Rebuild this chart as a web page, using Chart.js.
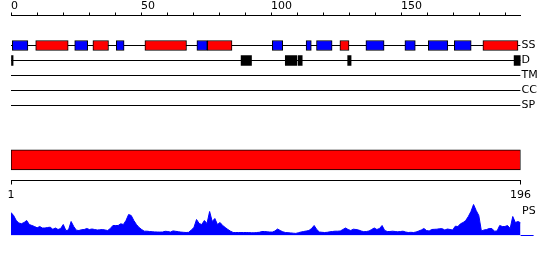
<!DOCTYPE html>
<html>
<head>
<meta charset="utf-8">
<style>
  html, body { margin: 0; padding: 0; background: #fff; }
  #wrap { position: relative; width: 550px; height: 260px; }
  #trackChart { position: absolute; left: 0; top: 0; }
  #profileChart { position: absolute; left: 0; top: 200px; }
</style>
</head>
<body>
<div id="wrap">
  <canvas id="trackChart" width="550" height="205"></canvas>
  <canvas id="profileChart" width="550" height="60"></canvas>
</div>
<script src="https://cdn.jsdelivr.net/npm/chart.js@4/dist/chart.umd.min.js"></script>
<script>
const seqLength = 196;
const topTickStep = 10;
const topTickLabels = [0, 50, 100, 150];
const bottomTicks = [1, 196];

const trackNames = ['SS', 'D', 'TM', 'CC', 'SP'];
const profileName = 'PS';

// segments as [start, end] in residues
const ssRedSegments = [[9.5, 22], [31.5, 37.5], [51.5, 67.5], [75.5, 85], [126.5, 130], [181.5, 195]];
const ssBlueSegments = [[0.5, 6.5], [24.5, 29.5], [40.5, 43.5], [71.5, 75.5], [100.5, 104.5], [113.5, 115.5],
  [117.5, 123.5], [136.5, 143.5], [151.5, 155.5], [160.5, 168], [170.5, 177]];
const disorderSegments = [[0, 0.8], [88.5, 92.5], [105.5, 110], [110.5, 112], [129.5, 130.8], [193.5, 196]];
const domainSegments = [[1, 196]];

// per-residue profile score (residue 1..196)
const profileScores = [
  23, 20, 15, 12.5, 11.8, 13, 15, 11, 10, 9,
  7.7, 9, 7.5, 7.5, 8, 8.3, 6.2, 7.5, 6, 7,
  11, 5, 5.5, 14, 9, 5.3, 5, 5.8, 6, 7,
  6, 6.5, 6, 5.5, 5.7, 6, 5.5, 5, 7, 10,
  10, 10, 11.7, 11, 15, 21, 20, 15, 11, 8,
  6, 4.3, 4.3, 4, 3.8, 3.6, 3.5, 3.4, 3.5, 4.2,
  4, 3.4, 4.6, 4.2, 3.8, 3.4, 3.2, 3, 3.2, 5.5,
  8, 16, 12, 11, 15, 12, 24, 14, 17, 11,
  13, 10, 8, 6, 4.3, 3, 3, 3, 3, 3,
  3, 2.9, 2.8, 2.7, 3, 3.2, 4, 4, 3.7, 3.5,
  3.4, 4.5, 6.5, 5, 3.7, 3, 2.8, 2.6, 2.3, 2.1,
  2.8, 3.5, 4, 4.5, 5, 7, 10, 6, 3.5, 3.2,
  3, 3.2, 3.7, 4, 4.3, 4.3, 4.5, 6, 7.5, 6,
  5, 6.3, 6, 5.5, 4.5, 3.8, 4, 4.5, 6, 7.5,
  6, 7, 10, 5, 4, 4, 4.3, 4, 3.7, 4,
  4.3, 3.5, 3, 3.2, 3, 3.5, 4.5, 5.5, 7, 5,
  4.5, 6, 6.2, 6.3, 6.8, 6.8, 5.5, 6.5, 6, 5.5,
  9.3, 9, 11.7, 13, 15, 19, 24, 31, 25, 20,
  4.5, 5.5, 6, 7, 7, 4.3, 4.5, 10, 9, 9,
  10, 7, 19, 13, 14, 12.7
];

// layout rows on the hidden y scale
const domainRow = 8.63;

Chart.defaults.font.family = "'DejaVu Sans', sans-serif";
Chart.defaults.font.size = 11;
Chart.defaults.color = '#000';

const rowOf = name => trackNames.indexOf(name) + 1;
const noPad = s => { s.paddingLeft = 0; s.paddingRight = 0; };

const segBars = (segs, row, color, thickness, border, xAxis) => ({
  type: 'bar',
  indexAxis: 'y',
  xAxisID: xAxis || 'x',
  yAxisID: 'y',
  data: segs.map(s => ({ x: s, y: row })),
  backgroundColor: color,
  borderColor: '#000',
  borderWidth: border,
  borderSkipped: false,
  barThickness: thickness,
  grouped: false,
  order: 1
});

const trackLines = trackNames.map(name => ({
  type: 'line',
  xAxisID: 'x',
  yAxisID: 'y',
  data: [{ x: 0, y: rowOf(name) }, { x: seqLength, y: rowOf(name) }],
  borderColor: '#000',
  borderWidth: 1,
  pointRadius: 0,
  order: 5
}));

const trackLabels = {
  id: 'trackLabels',
  afterDatasetsDraw(chart) {
    const { ctx } = chart;
    const { x, y } = chart.scales;
    ctx.save();
    ctx.fillStyle = '#000';
    ctx.font = "11px 'DejaVu Sans', sans-serif";
    ctx.textAlign = 'left';
    ctx.textBaseline = 'middle';
    const lx = x.getPixelForValue(seqLength) + 1;
    trackNames.forEach(name => ctx.fillText(name, lx, y.getPixelForValue(rowOf(name))));
    ctx.restore();
  }
};

const profileLabel = {
  id: 'profileLabel',
  afterDatasetsDraw(chart) {
    const { ctx } = chart;
    const { x, y } = chart.scales;
    ctx.save();
    ctx.fillStyle = '#000';
    ctx.font = "11px 'DejaVu Sans', sans-serif";
    ctx.textAlign = 'left';
    ctx.textBaseline = 'middle';
    const ex = x.getPixelForValue(seqLength);
    ctx.fillText(profileName, ex + 1.5, chart.chartArea.top + 11);
    // baseline stub past the last residue
    const by = Math.round(y.getPixelForValue(0)) - 0.5;
    ctx.strokeStyle = '#0000ff';
    ctx.lineWidth = 1;
    ctx.beginPath();
    ctx.moveTo(ex, by);
    ctx.lineTo(ex + 13, by);
    ctx.stroke();
    ctx.restore();
  }
};

new Chart(document.getElementById('trackChart'), {
  type: 'bar',
  data: {
    datasets: [
      ...trackLines,
      segBars(ssBlueSegments, rowOf('SS'), '#0000ff', 10, 1),
      segBars(ssRedSegments, rowOf('SS'), '#ff0000', 10, 1),
      segBars(disorderSegments, rowOf('D'), '#000000', 10, 0),
      segBars(domainSegments, domainRow, '#ff0000', 20, 1, 'x2')
    ]
  },
  options: {
    responsive: false,
    animation: false,
    events: [],
    layout: { padding: { left: 11, right: 29.4, top: 0.5, bottom: 0 } },
    plugins: { legend: { display: false }, tooltip: { enabled: false } },
    scales: {
      x: {
        type: 'linear',
        position: 'top',
        offset: false,
        min: 0,
        max: seqLength,
        afterFit: s => { s.height = 15; noPad(s); },
        ticks: {
          stepSize: topTickStep,
          includeBounds: false,
          autoSkip: false,
          maxRotation: 0,
          align: 'start',
          padding: 0,
          color: '#000',
          callback: v => topTickLabels.includes(v) ? String(v) : ''
        },
        grid: { offset: false, drawOnChartArea: false, tickLength: 3, color: '#000' },
        border: { color: '#000', width: 1 }
      },
      x2: {
        type: 'linear',
        position: 'bottom',
        offset: false,
        min: 1,
        max: seqLength,
        afterFit: s => { s.height = 24.5; noPad(s); },
        afterBuildTicks: s => { s.ticks = bottomTicks.map(v => ({ value: v })); },
        ticks: { autoSkip: false, maxRotation: 0, padding: 4, color: '#000' },
        grid: { offset: false, drawOnChartArea: false, tickLength: 4, color: '#000' },
        border: { color: '#000', width: 1 }
      },
      y: {
        type: 'linear',
        display: false,
        offset: false,
        reverse: true,
        min: -1,
        max: 10
      }
    }
  },
  plugins: [trackLabels]
});

new Chart(document.getElementById('profileChart'), {
  type: 'line',
  data: {
    datasets: [{
      data: profileScores.map((v, i) => ({ x: i + 1, y: v })),
      borderColor: '#0000ff',
      backgroundColor: '#0000ff',
      borderWidth: 1,
      pointRadius: 0,
      tension: 0,
      fill: 'origin'
    }]
  },
  options: {
    responsive: false,
    animation: false,
    events: [],
    layout: { padding: { left: 11, right: 29.4, top: 0, bottom: 24.5 } },
    plugins: { legend: { display: false }, tooltip: { enabled: false } },
    scales: {
      x: { type: 'linear', display: false, offset: false, min: 1, max: seqLength },
      y: { type: 'linear', display: false, offset: false, min: 0, max: 35.5 }
    }
  },
  plugins: [profileLabel]
});
</script>
</body>
</html>
